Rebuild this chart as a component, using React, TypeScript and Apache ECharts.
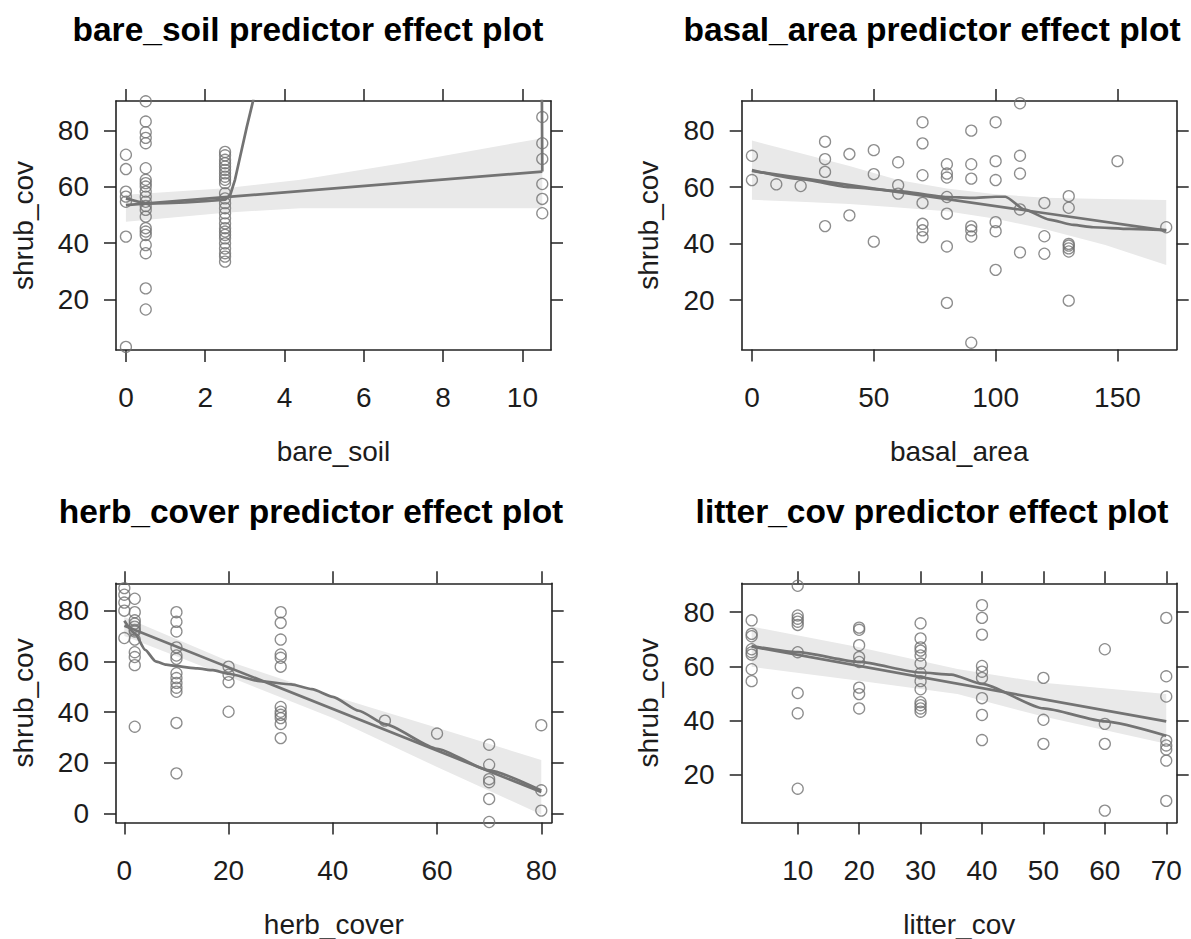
import React, { useEffect, useRef } from 'react';
import * as echarts from 'echarts';

const FONT = "'Liberation Sans', Arial, Helvetica, sans-serif";
const FRAME = '#222222';
const TEXT = '#1c1c1c';
const LINE = '#737373';
const POINT = '#707070';
const BAND = '#e9e9e9';

// ---------- bare_soil ----------
const bareSoilLevels = [0, 0.5, 2.5, 10.5];
const bareSoilResid = [
  [71.4, 66.3, 58.3, 56.5, 54.7, 42.3, 3.1],
  [90.4, 83.2, 79.4, 77.4, 75.5, 66.6, 62.5, 61.3, 60.1, 58.3, 56.5, 54.7, 53.2, 51.8, 49.4, 45.3, 44.1, 42.9, 39.3, 36.4, 23.9, 16.4],
  [72.4, 71.2, 69.6, 68.4, 67.2, 66, 64.8, 63.6, 62.5, 61.3, 57.7, 55.9, 54.2, 52.4, 50.6, 48.8, 47, 45.3, 44.1, 42.9, 41.7, 39.9, 38.1, 36.4, 35.2, 33.4],
  [84.8, 75.5, 69.9, 61, 55.7, 50.6],
];
const bareSoilFitX = [0, 10.5];
const bareSoilFitY = [53.5, 65.4];
const bareSoilBandX = [0, 2.5, 4.4, 7, 10.5];
const bareSoilBandUpper = [57.2, 59.5, 62.5, 68.5, 77.3];
const bareSoilBandLower = [47.6, 50.8, 52.4, 52.4, 52.4];
const bareSoilSmoothX = [0, 0.5, 1, 1.5, 2, 2.5, 2.63, 2.75, 2.88, 3.05, 3.21, 3.4, 10.48, 10.5];
const bareSoilSmoothY = [55.9, 54, 54.2, 54.5, 54.9, 55.4, 57.1, 62.5, 70.7, 81.4, 90.7, 120, 120, 65.4];
const bareSoilTicks = [0, 2, 4, 6, 8, 10];

// ---------- basal_area ----------
const basalLevels = [0, 10, 20, 30, 40, 50, 60, 70, 80, 90, 100, 110, 120, 130, 150, 170];
const basalResid = [
  [71.1, 62.5],
  [61],
  [60.4],
  [76.1, 69.9, 65.4, 46.2],
  [71.7, 50],
  [73.1, 64.6, 40.7],
  [68.8, 60.7, 57.7],
  [83, 75.5, 64.2, 54.4, 47, 44.7, 42.3],
  [68.1, 64.8, 63.4, 56.5, 50.6, 39, 19],
  [80, 68.1, 63, 46.1, 44.7, 42.5, 4.9],
  [83, 69.2, 62.5, 47.6, 44.4, 30.7],
  [89.7, 71.1, 64.8, 52.1, 36.9],
  [54.4, 42.6, 36.4],
  [56.8, 52.7, 39.9, 39.3, 38.3, 37.2, 19.8],
  [69.2],
  [45.8],
];
const basalFitX = [0, 170];
const basalFitY = [65.7, 44.6];
const basalBandX = [0, 20, 40, 60, 80, 100, 120, 145, 170];
const basalBandUpper = [76.5, 72, 67.5, 62.5, 59.5, 57.5, 56.2, 55.8, 55.4];
const basalBandLower = [55.5, 54.8, 54, 52.8, 51.5, 48.8, 45.2, 39.5, 32.4];
const basalSmoothX = [0, 20, 40, 60, 80, 90, 100, 104, 112, 122, 132, 140, 155, 170];
const basalSmoothY = [66, 62.8, 60, 58.6, 56.5, 56.2, 56.6, 56.6, 52, 48.5, 46.6, 45.8, 45.2, 44.8];
const basalTicks = [0, 50, 100, 150];

// ---------- herb_cover ----------
const herbLevels = [0, 2, 10, 20, 30, 50, 60, 70, 80];
const herbResid = [
  [88.9, 86.3, 83.2, 80, 69.2],
  [84.7, 79.4, 76.2, 74.9, 73.7, 72.4, 71.8, 68.6, 63.6, 61.7, 58.5, 34.2],
  [79.4, 75.6, 71.8, 65.5, 62.3, 61, 55.3, 53.4, 51.5, 49.6, 48, 35.7, 15.8],
  [57.9, 54.7, 51.8, 40.1],
  [79.4, 75.2, 68.6, 62.7, 61.4, 57.9, 42, 40.1, 38.9, 37.6, 35.3, 29.7],
  [36.6],
  [31.5],
  [27.1, 19.2, 13.5, 12.3, 5.7, -3.4],
  [34.8, 9.1, 1.1],
];
const herbFitX = [0, 80];
const herbFitY = [74, 8.4];
const herbBandX = [0, 20, 40, 60, 80];
const herbBandUpper = [77.5, 60, 46.3, 33.8, 21.1];
const herbBandLower = [70, 54, 37.6, 18.3, -0.4];
const herbSmoothX = [0, 2, 4, 6, 8, 10, 14, 17, 20, 26, 32, 36, 40, 45, 50, 60, 70, 80];
const herbSmoothY = [76, 71, 64.5, 60, 58.7, 58.1, 57.2, 56.5, 55.1, 52.2, 50.9, 49, 46, 40.5, 35.2, 25.5, 17, 9];
const herbTicks = [0, 20, 40, 60, 80];

// ---------- litter_cov ----------
const litterLevels = [2.5, 10, 20, 30, 40, 50, 60, 70];
const litterResid = [
  [77, 72, 71.1, 66.3, 65.2, 64.3, 58.9, 54.5],
  [89.8, 78.8, 77.6, 76.5, 75.3, 65.2, 50.1, 42.6, 14.7],
  [74.3, 73.5, 67.8, 63.4, 61.6, 52.1, 49.7, 44.4],
  [75.9, 70.3, 67, 65.8, 64, 61, 57.4, 54.5, 51.5, 46.7, 45.6, 44.4, 43.2],
  [82.6, 77.9, 71.7, 60.1, 58, 55.7, 48.2, 42, 32.7],
  [55.7, 40.2, 31.3],
  [66.3, 38.7, 31.3, 6.6],
  [77.9, 56.3, 48.8, 32.5, 30.7, 29.2, 25.1, 10.2],
];
const litterFitX = [2.5, 70];
const litterFitY = [67.3, 39.6];
const litterBandX = [2.5, 20, 36, 50, 70];
const litterBandUpper = [74.7, 67, 59, 53.9, 49.7];
const litterBandLower = [59.8, 54.6, 49.7, 41.4, 31.3];
const litterSmoothX = [2.5, 10, 20, 30, 35, 40, 50, 60, 70];
const litterSmoothY = [67.5, 65.2, 61.6, 57.7, 56.9, 53.5, 44.4, 39.6, 34.3];
const litterTicks = [10, 20, 30, 40, 50, 60, 70];

const yTicks = [20, 40, 60, 80];
const yTicksHerb = [0, 20, 40, 60, 80];

type Panel = {
  title: string;
  xName: string;
  levels: number[];
  resid: number[][];
  fitX: number[];
  fitY: number[];
  bandX: number[];
  bandUpper: number[];
  bandLower: number[];
  smoothX: number[];
  smoothY: number[];
  smooth: number | boolean;
  xRange: [number, number];
  yRange: [number, number];
  xTicks: number[];
  yTicks: number[];
  box: [number, number, number, number];
  titlePos: [number, number];
};

const panels: Panel[] = [
  {
    title: 'bare_soil predictor effect plot', xName: 'bare_soil',
    levels: bareSoilLevels, resid: bareSoilResid, fitX: bareSoilFitX, fitY: bareSoilFitY,
    bandX: bareSoilBandX, bandUpper: bareSoilBandUpper, bandLower: bareSoilBandLower,
    smoothX: bareSoilSmoothX, smoothY: bareSoilSmoothY, smooth: false,
    xRange: [-0.25, 10.72], yRange: [2, 90.5], xTicks: bareSoilTicks, yTicks,
    box: [116, 101, 435, 249], titlePos: [308, 29],
  },
  {
    title: 'basal_area predictor effect plot', xName: 'basal_area',
    levels: basalLevels, resid: basalResid, fitX: basalFitX, fitY: basalFitY,
    bandX: basalBandX, bandUpper: basalBandUpper, bandLower: basalBandLower,
    smoothX: basalSmoothX, smoothY: basalSmoothY, smooth: 0.2,
    xRange: [-4.2, 174.3], yRange: [2.5, 90.5], xTicks: basalTicks, yTicks,
    box: [741.7, 101, 435, 248.5], titlePos: [932, 29],
  },
  {
    title: 'herb_cover predictor effect plot', xName: 'herb_cover',
    levels: herbLevels, resid: herbResid, fitX: herbFitX, fitY: herbFitY,
    bandX: herbBandX, bandUpper: herbBandUpper, bandLower: herbBandLower,
    smoothX: herbSmoothX, smoothY: herbSmoothY, smooth: 0.2,
    xRange: [-1.6, 82], yRange: [-3.6, 90.8], xTicks: herbTicks, yTicks: yTicksHerb,
    box: [116, 583.3, 435.7, 248.4], titlePos: [311, 511],
  },
  {
    title: 'litter_cov predictor effect plot', xName: 'litter_cov',
    levels: litterLevels, resid: litterResid, fitX: litterFitX, fitY: litterFitY,
    bandX: litterBandX, bandUpper: litterBandUpper, bandLower: litterBandLower,
    smoothX: litterSmoothX, smoothY: litterSmoothY, smooth: 0.2,
    xRange: [0.88, 71.7], yRange: [2.2, 90.7], xTicks: litterTicks, yTicks,
    box: [741.7, 583.3, 435, 248.4], titlePos: [932, 511],
  },
];

function buildOption() {
  const grid: any[] = [];
  const xAxis: any[] = [];
  const yAxis: any[] = [];
  const series: any[] = [];
  const graphic: any[] = [];

  const axisLine = { show: true, onZero: false, lineStyle: { color: FRAME, width: 1.6 } };
  const tick = (vals: number[]) => ({
    show: true, inside: false, length: 12, customValues: vals,
    lineStyle: { color: FRAME, width: 1.5 },
  });
  const labelStyle = { fontSize: 28, color: TEXT, fontFamily: FONT };

  panels.forEach((p, i) => {
    grid.push({ left: p.box[0], top: p.box[1], width: p.box[2], height: p.box[3], containLabel: false });

    xAxis.push({
      gridIndex: i, type: 'value', position: 'bottom', min: p.xRange[0], max: p.xRange[1],
      axisLine, axisTick: tick(p.xTicks),
      axisLabel: { ...labelStyle, customValues: p.xTicks, margin: 33.5 },
      splitLine: { show: false },
      name: p.xName, nameLocation: 'middle', nameGap: 87.5,
      nameTextStyle: { ...labelStyle },
    });
    xAxis.push({
      gridIndex: i, type: 'value', position: 'top', min: p.xRange[0], max: p.xRange[1],
      axisLine, axisTick: tick(p.xTicks), axisLabel: { show: false }, splitLine: { show: false },
    });
    yAxis.push({
      gridIndex: i, type: 'value', position: 'left', min: p.yRange[0], max: p.yRange[1],
      axisLine, axisTick: tick(p.yTicks),
      axisLabel: { ...labelStyle, customValues: p.yTicks, margin: 27 },
      splitLine: { show: false },
      name: 'shrub_cov', nameLocation: 'middle', nameGap: 79,
      nameTextStyle: { ...labelStyle },
    });
    yAxis.push({
      gridIndex: i, type: 'value', position: 'right', min: p.yRange[0], max: p.yRange[1],
      axisLine, axisTick: tick(p.yTicks), axisLabel: { show: false }, splitLine: { show: false },
    });

    const xi = 2 * i;
    const yi = 2 * i;

    series.push({
      type: 'custom', xAxisIndex: xi, yAxisIndex: yi, silent: true, z: 1, clip: true,
      data: [[p.bandX[0], p.bandUpper[0]]],
      renderItem: (_params: any, api: any) => {
        const pts: number[][] = [];
        p.bandX.forEach((x, k) => pts.push(api.coord([x, p.bandUpper[k]])));
        for (let k = p.bandX.length - 1; k >= 0; k--) pts.push(api.coord([p.bandX[k], p.bandLower[k]]));
        return { type: 'polygon', shape: { points: pts }, style: { fill: BAND, stroke: null } };
      },
    });

    const pts: number[][] = [];
    p.levels.forEach((x, k) => p.resid[k].forEach((y) => pts.push([x, y])));
    series.push({
      type: 'scatter', xAxisIndex: xi, yAxisIndex: yi, silent: true, z: 2,
      data: pts, symbol: 'circle', symbolSize: 11,
      itemStyle: { color: 'rgba(255,255,255,0)', borderColor: POINT, borderWidth: 1.3 },
    });

    series.push({
      type: 'line', xAxisIndex: xi, yAxisIndex: yi, silent: true, z: 3, clip: true,
      data: p.fitX.map((x, k) => [x, p.fitY[k]]),
      symbol: 'none', lineStyle: { color: LINE, width: 2.7 },
    });
    series.push({
      type: 'line', xAxisIndex: xi, yAxisIndex: yi, silent: true, z: 3, clip: true,
      data: p.smoothX.map((x, k) => [x, p.smoothY[k]]),
      symbol: 'none', smooth: p.smooth, smoothMonotone: 'x',
      lineStyle: { color: LINE, width: 2.7 },
    });

    graphic.push({
      type: 'text', x: p.titlePos[0], y: p.titlePos[1], silent: true,
      style: {
        text: p.title, fill: '#000', fontSize: 33.5, fontWeight: 'bold', fontFamily: FONT,
        align: 'center', verticalAlign: 'middle', textAlign: 'center', textVerticalAlign: 'middle',
      },
    });
  });

  return {
    animation: false,
    backgroundColor: '#ffffff',
    grid, xAxis, yAxis, series, graphic,
  };
}

export default function App() {
  const ref = useRef<HTMLDivElement>(null);
  useEffect(() => {
    if (!ref.current) return;
    const chart = echarts.init(ref.current, undefined, { renderer: 'svg' });
    chart.setOption(buildOption() as any);
    return () => chart.dispose();
  }, []);
  return (
    <div
      ref={ref}
      style={{ position: 'absolute', left: 0, top: 0, width: 1191, height: 939, background: '#fff' }}
    />
  );
}
